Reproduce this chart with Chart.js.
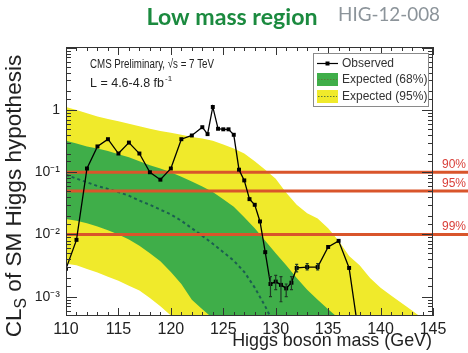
<!DOCTYPE html>
<html>
<head>
<meta charset="utf-8">
<script src="https://cdn.jsdelivr.net/npm/chart.js@4.4.1/dist/chart.umd.min.js"></script>
<style>
    html, body { margin: 0; padding: 0; background: #fff; }
    #wrap { width: 468px; height: 353px; }
</style>
</head>
<body>
<div id="wrap"><canvas id="limitChart" width="468" height="353"></canvas></div>
<script>
// 观测值 (observed CLs)
const massObs = [110, 111, 112, 113, 114, 115, 116, 117, 118, 119, 120, 121, 122, 123, 123.5, 124, 124.5, 125, 125.5, 126,
                 126.5, 127, 127.5, 128, 128.5, 129, 129.5, 130, 130.5, 131, 131.5, 132, 133, 134, 135, 136, 137, 138];
const clsObs = [0.0028, 0.0082, 0.115, 0.26, 0.34, 0.20, 0.30, 0.20, 0.10, 0.076, 0.115, 0.34, 0.39, 0.53, 0.41, 1.12, 0.50, 0.49, 0.49, 0.40,
                0.11, 0.074, 0.037, 0.030, 0.0162, 0.0052, 0.0016, 0.00175, 0.00155, 0.00136, 0.00168, 0.0029, 0.0030, 0.0030, 0.0063, 0.0079, 0.0029, 0.0002];

// 误差棒
const errMass = [129.5, 130, 130.5, 131, 131.5, 132, 133, 134];
const errLo = [0.0010, 0.0013, 0.00083, 0.0010, 0.0013, 0.0025, 0.0027, 0.0027];
const errHi = [0.0021, 0.0022, 0.0021, 0.0016, 0.0021, 0.0033, 0.0034, 0.0034];

// 期望值 (expected), 1 GeV steps
const massExp = [110, 111, 112, 113, 114, 115, 116, 117, 118, 119, 120, 121, 122, 123, 124, 125, 126, 127,
                 128, 129, 130, 131, 132, 133, 134, 135, 136, 137, 138, 139, 140, 141, 142, 143, 144, 145];
const expMedian = [0.091, 0.079, 0.069, 0.060, 0.054, 0.048, 0.042, 0.035, 0.030, 0.025, 0.021, 0.0166, 0.0126, 0.0095, 0.0071, 0.0052, 0.0038, 0.0025,
                   0.0014, 0.0007, 0.00032, 0.00014, 0.00006, 0.00003, 0.000015, 0.00001, 0.00001, 0.00001, 0.00001, 0.00001, 0.00001, 0.00001, 0.00001, 0.00001, 0.00001, 0.00001];
const exp68Hi = [0.32, 0.29, 0.26, 0.24, 0.22, 0.195, 0.174, 0.15, 0.13, 0.115, 0.1, 0.085, 0.071, 0.059, 0.048, 0.037, 0.028, 0.019,
                 0.0126, 0.0079, 0.005, 0.0032, 0.002, 0.0013, 0.00089, 0.00063, 0.00045, 0.00032, 0.00022, 0.00016, 0.00011, 0.00008, 0.00006, 0.00004, 0.00003, 0.00002];
const exp68Lo = [0.0178, 0.0166, 0.0151, 0.0135, 0.0117, 0.010, 0.0083, 0.0066, 0.005, 0.0037, 0.0025, 0.0016, 0.00089, 0.00063, 0.00045, 0.00028, 0.00016, 0.0001,
                 0.00006, 0.00004, 0.000025, 0.000015, 0.00001, 0.00001, 0.00001, 0.00001, 0.00001, 0.00001, 0.00001, 0.00001, 0.00001, 0.00001, 0.00001, 0.00001, 0.00001, 0.00001];
const exp95Hi = [1.12, 1.0, 0.89, 0.79, 0.72, 0.66, 0.60, 0.55, 0.50, 0.46, 0.43, 0.40, 0.37, 0.35, 0.32, 0.28, 0.24, 0.20,
                 0.15, 0.11, 0.079, 0.047, 0.030, 0.022, 0.018, 0.0126, 0.0079, 0.0045, 0.0032, 0.002, 0.0014, 0.00105, 0.00079, 0.0006, 0.00045, 0.00032];
const exp95Lo = [0.0034, 0.0032, 0.0028, 0.00245, 0.0021, 0.0018, 0.0015, 0.00126, 0.00095, 0.0007, 0.0005, 0.00032, 0.0002, 0.00012, 0.00008, 0.00005, 0.00003, 0.00002,
                 0.000015, 0.00001, 0.00001, 0.00001, 0.00001, 0.00001, 0.00001, 0.00001, 0.00001, 0.00001, 0.00001, 0.00001, 0.00001, 0.00001, 0.00001, 0.00001, 0.00001, 0.00001];

// 置信水平线
const clLevels = [0.1, 0.05, 0.01];
const clLabels = ['90%', '95%', '99%'];

// 坐标刻度标签
const yTickValues = [1, 0.1, 0.01, 0.001];
const yTickLabels = ['1', '10\u207B\u00B9', '10\u207B\u00B2', '10\u207B\u00B3'];

const FONT = '"Liberation Sans", Arial, sans-serif';

function pts(xs, ys) {
    return xs.map((x, i) => ({ x: x, y: ys[i] }));
}

function isDecade(v) {
    const l = Math.log10(v);
    return Math.abs(l - Math.round(l)) < 1e-6;
}

// 按目标宽度调整字号
function fitFont(ctx, text, width, family, weight) {
    ctx.font = `${weight} 20px ${family}`;
    const size = 20 * width / ctx.measureText(text).width;
    ctx.font = `${weight} ${size.toFixed(2)}px ${family}`;
    return size;
}

// 固定字号，宽度超出时横向压缩
function drawSqueezed(ctx, text, x, y, size, maxWidth) {
    ctx.font = `${size}px ${FONT}`;
    const w = ctx.measureText(text).width;
    const k = Math.min(1, maxWidth / w);
    ctx.save();
    ctx.translate(x, y);
    ctx.scale(k, 1);
    ctx.fillText(text, 0, 0);
    ctx.restore();
    return w * k;
}

// 边框和内向刻度
const frameTicks = {
    id: 'frameTicks',
    afterDatasetsDraw(chart) {
        const { ctx, chartArea: a, scales: { x, y } } = chart;
        ctx.save();

        // error bars
        ctx.strokeStyle = '#1f3a26';
        ctx.lineWidth = 1.2;
        ctx.beginPath();
        errMass.forEach((m, i) => {
            const px = x.getPixelForValue(m);
            const y1 = y.getPixelForValue(errLo[i]);
            const y2 = y.getPixelForValue(errHi[i]);
            ctx.moveTo(px, y1); ctx.lineTo(px, y2);
            ctx.moveTo(px - 1.5, y1); ctx.lineTo(px + 1.5, y1);
            ctx.moveTo(px - 1.5, y2); ctx.lineTo(px + 1.5, y2);
        });
        ctx.stroke();

        ctx.strokeStyle = '#333';
        ctx.lineWidth = 1;
        ctx.strokeRect(a.left + 0.5, a.top + 0.5, a.width - 1, a.height - 1);
        ctx.beginPath();
        for (let m = x.min; m <= x.max; m += 1) {
            const px = Math.round(x.getPixelForValue(m)) + 0.5;
            const len = m % 5 === 0 ? 8 : 4;
            ctx.moveTo(px, a.bottom); ctx.lineTo(px, a.bottom - len);
            ctx.moveTo(px, a.top); ctx.lineTo(px, a.top + len);
        }
        y.ticks.forEach(t => {
            if (t.value <= y.min || t.value >= y.max) return;
            const py = Math.round(y.getPixelForValue(t.value)) + 0.5;
            const len = isDecade(t.value) ? 11 : 5;
            ctx.moveTo(a.left, py); ctx.lineTo(a.left + len, py);
            ctx.moveTo(a.right, py); ctx.lineTo(a.right - len, py);
        });
        ctx.stroke();
        ctx.restore();
    }
};

// 标题、说明文字、图例
const annotations = {
    id: 'annotations',
    afterDraw(chart) {
        const { ctx, chartArea: a, scales: { x, y } } = chart;
        ctx.save();
        ctx.textBaseline = 'middle';

        // slide title
        ctx.fillStyle = '#1b8a3f';
        ctx.textAlign = 'center';
        fitFont(ctx, 'Low mass region', 171, 'Lato, "Open Sans", sans-serif', 'bold');
        ctx.fillText('Low mass region', 232, 18);
        ctx.fillStyle = '#8c949a';
        ctx.textAlign = 'left';
        fitFont(ctx, 'HIG-12-008', 102, 'Lato, "Open Sans", sans-serif', 'normal');
        ctx.fillText('HIG-12-008', 338, 15);

        // CMS label
        ctx.fillStyle = '#222';
        drawSqueezed(ctx, 'CMS Preliminary, \u221As = 7 TeV', 90, 65, 12.5, 124);
        const lw = drawSqueezed(ctx, 'L = 4.6-4.8 fb', 90, 84, 12.5, 76);
        ctx.font = `8px ${FONT}`;
        ctx.fillText('-1', 90 + lw + 1, 79);

        // CL level labels
        ctx.fillStyle = '#d9403a';
        ctx.textAlign = 'right';
        ctx.textBaseline = 'alphabetic';
        ctx.font = `12px ${FONT}`;
        clLevels.forEach((lvl, i) => {
            ctx.fillText(clLabels[i], 466, y.getPixelForValue(lvl) - 4);
        });

        // x axis title
        ctx.fillStyle = '#222';
        ctx.textBaseline = 'middle';
        ctx.textAlign = 'right';
        fitFont(ctx, 'Higgs boson mass (GeV)', 200, FONT, 'normal');
        ctx.fillText('Higgs boson mass (GeV)', 432, 341);

        // y axis title with subscript
        ctx.translate(15, 196);
        ctx.rotate(-Math.PI / 2);
        const fullLen = 287;
        const big = fitFont(ctx, 'CLS of SM Higgs hypothesis', fullLen, FONT, 'normal');
        ctx.font = `${big.toFixed(2)}px ${FONT}`;
        const wCL = ctx.measureText('CL').width;
        const wRest = ctx.measureText(' of SM Higgs hypothesis').width;
        ctx.font = `${(big * 0.7).toFixed(2)}px ${FONT}`;
        const wS = ctx.measureText('S').width;
        const total = wCL + wS + wRest;
        let cx = -total / 2;
        ctx.textAlign = 'left';
        ctx.font = `${big.toFixed(2)}px ${FONT}`;
        ctx.fillText('CL', cx, 0);
        cx += wCL;
        ctx.font = `${(big * 0.7).toFixed(2)}px ${FONT}`;
        ctx.fillText('S', cx, big * 0.3);
        cx += wS;
        ctx.font = `${big.toFixed(2)}px ${FONT}`;
        ctx.fillText(' of SM Higgs hypothesis', cx, 0);
        ctx.restore();

        // legend
        ctx.save();
        ctx.fillStyle = '#fff';
        ctx.fillRect(313.5, 53.5, 115, 53);
        ctx.strokeStyle = '#8a8a8a';
        ctx.lineWidth = 1;
        ctx.strokeRect(313.5, 53.5, 115, 53);
        const ds = chart.data.datasets;
        const obs = ds.find(d => d.id === 'obs');
        const g = ds.find(d => d.id === 'g68');
        const yl = ds.find(d => d.id === 'y95');
        // observed
        ctx.strokeStyle = '#000';
        ctx.lineWidth = 1.2;
        ctx.beginPath(); ctx.moveTo(317, 63.5); ctx.lineTo(338, 63.5); ctx.stroke();
        ctx.fillStyle = '#000';
        ctx.fillRect(325.5, 61.5, 4, 4);
        // bands
        [[g, 73], [yl, 90]].forEach(([d, top]) => {
            ctx.fillStyle = d.backgroundColor;
            ctx.fillRect(317, top, 21, 13);
            ctx.strokeStyle = '#5d7a3a';
            ctx.setLineDash([1.5, 1.5]);
            ctx.beginPath(); ctx.moveTo(318, top + 6.5); ctx.lineTo(337, top + 6.5); ctx.stroke();
            ctx.setLineDash([]);
        });
        ctx.fillStyle = '#333';
        ctx.textAlign = 'left';
        ctx.textBaseline = 'middle';
        ctx.font = `12px ${FONT}`;
        ctx.fillText(obs.label, 342, 63.5);
        ctx.fillText(g.label, 342, 80);
        ctx.fillText(yl.label, 342, 97);
        ctx.restore();
    }
};

const datasets = [
    {
        id: 'y95', label: 'Expected (95%)', data: pts(massExp, exp95Hi),
        backgroundColor: '#f0ea2b', borderWidth: 0, pointRadius: 0, fill: '+1', order: 10
    },
    {
        id: 'y95lo', label: '', data: pts(massExp, exp95Lo),
        borderWidth: 0, pointRadius: 0, fill: false, order: 9
    },
    {
        id: 'g68', label: 'Expected (68%)', data: pts(massExp, exp68Hi),
        backgroundColor: '#3fae49', borderWidth: 0, pointRadius: 0, fill: '+1', order: 8
    },
    {
        id: 'g68lo', label: '', data: pts(massExp, exp68Lo),
        borderWidth: 0, pointRadius: 0, fill: false, order: 7
    },
    {
        id: 'median', label: 'Expected', data: pts(massExp, expMedian),
        borderColor: '#1b5e50', borderWidth: 2, borderDash: [3, 3], pointRadius: 0, fill: false, order: 6
    }
];

clLevels.forEach((lvl, i) => {
    datasets.push({
        id: 'cl' + i, label: clLabels[i], data: [{ x: 110, y: lvl }, { x: 149, y: lvl }],
        borderColor: '#d9552b', borderWidth: 3, pointRadius: 0, fill: false, order: 3,
        clip: { left: 0, top: 0, right: 40, bottom: 0 }
    });
});

datasets.push({
    id: 'obs', label: 'Observed', data: pts(massObs, clsObs),
    borderColor: '#000', borderWidth: 1.3, pointStyle: 'rect', pointRadius: 2.8,
    pointBackgroundColor: '#000', pointBorderColor: '#000', pointBorderWidth: 0, fill: false, order: 0
});

new Chart(document.getElementById('limitChart'), {
    type: 'line',
    data: { datasets: datasets },
    options: {
        responsive: false,
        animation: false,
        layout: { padding: { top: 47, right: 35, left: 0, bottom: 0 } },
        plugins: {
            legend: { display: false },
            tooltip: { enabled: false },
            title: { display: false }
        },
        elements: { line: { tension: 0 } },
        scales: {
            x: {
                type: 'linear', min: 110, max: 145,
                grid: { display: false, drawTicks: false },
                border: { display: false },
                ticks: { stepSize: 5, padding: 4, color: '#222', font: { family: FONT, size: 16 } },
                afterFit: s => { s.height = 37; }
            },
            y: {
                type: 'logarithmic', min: 0.00049, max: 10.3,
                grid: { display: false, drawTicks: false },
                border: { display: false },
                ticks: {
                    autoSkip: false, padding: 6, color: '#222', font: { family: FONT, size: 14 },
                    callback: v => {
                        const i = yTickValues.findIndex(t => Math.abs(t - v) / t < 1e-6);
                        return i >= 0 ? yTickLabels[i] : '';
                    }
                },
                afterFit: s => { s.width = 66; }
            }
        }
    },
    plugins: [frameTicks, annotations]
});
</script>
</body>
</html>
